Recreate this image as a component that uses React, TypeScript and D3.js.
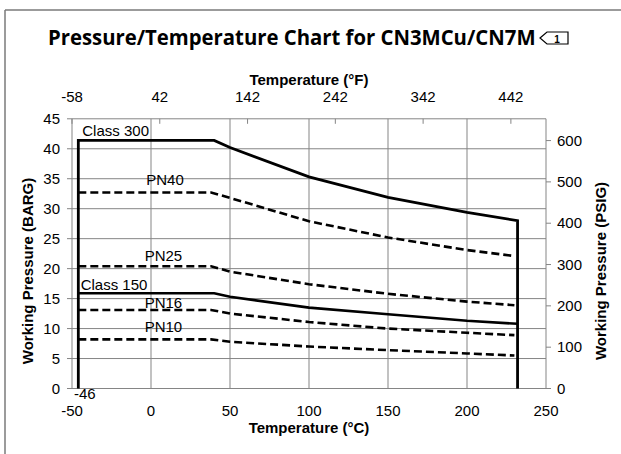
import { useLayoutEffect, useRef, useState } from "react";
import * as d3 from "d3";

// temperatures (°C) where each curve has a point
const class300Temp = [-46, 40, 50, 100, 150, 200, 232];
const class300Bar = [41.4, 41.4, 40.2, 35.3, 31.9, 29.4, 28.0];
const class150Bar = [15.9, 15.9, 15.3, 13.5, 12.4, 11.3, 10.8];

const pnTemp = [-46, 38, 50, 100, 150, 200, 230];
const pn40Bar = [32.7, 32.7, 31.8, 27.9, 25.2, 23.1, 22.1];
const pn25Bar = [20.4, 20.4, 19.5, 17.4, 15.8, 14.5, 13.9];
const pn16Bar = [13.1, 13.1, 12.5, 11.1, 10.0, 9.3, 8.9];
const pn10Bar = [8.2, 8.2, 7.8, 7.0, 6.4, 5.85, 5.5];

const cTicks = [-50, 0, 50, 100, 150, 200, 250];
const fTicks = [-58, 42, 142, 242, 342, 442];
const barTicks = [0, 5, 10, 15, 20, 25, 30, 35, 40, 45];
const psiTicks = [0, 100, 200, 300, 400, 500, 600];

const seriesNames = ["Class 300", "PN40", "PN25", "Class 150", "PN16", "PN10"];
// label anchor in data units (°C, bar)
const labelTemp = [-43.5, -3, -4, -44.5, -4, -4];
const labelBar = [42.2, 33.9, 21.3, 16.4, 13.5, 9.4];

const PSI_PER_BAR = 14.5038;
const W = 621, H = 454;
const m = { left: 72, right: 546, top: 118.8, bottom: 388.5 };
const FONT = "'Liberation Sans', Arial, sans-serif";
const TITLE_W = 488;

export default function App() {
  const titleRef = useRef<SVGTextElement>(null);
  const [sx, setSx] = useState(1);

  useLayoutEffect(() => {
    if (titleRef.current) {
      const len = titleRef.current.getComputedTextLength();
      if (len > 0) setSx(TITLE_W / len);
    }
  }, []);

  const x = d3.scaleLinear().domain([-50, 250]).range([m.left, m.right]);
  const y = d3.scaleLinear().domain([0, 45]).range([m.bottom, m.top]);
  const xF = d3.scaleLinear().domain([-58, 482]).range([m.left, m.right]);
  const yPsi = d3.scaleLinear().domain([0, 45 * PSI_PER_BAR]).range([m.bottom, m.top]);

  const line = d3.line<[number, number]>().x((d) => x(d[0])).y((d) => y(d[1]));

  const class300Pts: [number, number][] = [
    [class300Temp[0], 0],
    ...class300Temp.map((t, i) => [t, class300Bar[i]] as [number, number]),
    [class300Temp[class300Temp.length - 1], 0],
  ];
  const class150Pts = class300Temp.map((t, i) => [t, class150Bar[i]] as [number, number]);
  const pnSeries = [pn40Bar, pn25Bar, pn16Bar, pn10Bar].map((vals) =>
    pnTemp.map((t, i) => [t, vals[i]] as [number, number])
  );

  const grid = "#858585";

  return (
    <svg width={W} height={H} style={{ position: "absolute", left: 0, top: 0, background: "#fff" }}
      fontFamily={FONT}>
      {/* page frame */}
      <line x1={5} y1={10} x2={W} y2={10} stroke="#7a7a7a" strokeWidth={1.5} />
      <line x1={5} y1={10} x2={5} y2={H} stroke="#7a7a7a" strokeWidth={1.5} />

      {/* title */}
      <text ref={titleRef} transform={`translate(48,45) scale(${sx},1)`}
        fontFamily="'Open Sans', 'Noto Sans', sans-serif" fontWeight="bold" fontSize={22}>
        Pressure/Temperature Chart for CN3MCu/CN7M
      </text>
      <path d="M540,38 L547,32 L568,32 L568,44 L547,44 Z" fill="none" stroke="#000" strokeWidth={1.2} />
      <text x={557} y={42.5} fontSize={10} fontWeight="bold" textAnchor="middle">1</text>

      {/* grid */}
      {barTicks.map((v) => (
        <line key={"h" + v} x1={m.left} x2={m.right} y1={y(v)} y2={y(v)} stroke={grid} strokeWidth={1} />
      ))}
      {cTicks.map((v) => (
        <line key={"v" + v} x1={x(v)} x2={x(v)} y1={m.top} y2={m.bottom} stroke={grid} strokeWidth={1} />
      ))}

      {/* left axis */}
      {barTicks.map((v) => (
        <g key={"lt" + v}>
          <line x1={m.left - 5} x2={m.left} y1={y(v)} y2={y(v)} stroke={grid} />
          <text x={60} y={y(v)} dy="0.35em" textAnchor="end" fontSize={15}>{v}</text>
        </g>
      ))}
      <text transform={`translate(33,271) rotate(-90)`} textAnchor="middle" fontSize={15} fontWeight="bold">
        Working Pressure (BARG)
      </text>

      {/* right axis */}
      {psiTicks.map((v) => (
        <g key={"rt" + v}>
          <line x1={m.right} x2={m.right + 5} y1={yPsi(v)} y2={yPsi(v)} stroke={grid} />
          <text x={557} y={yPsi(v)} dy="0.35em" textAnchor="start" fontSize={15}>{v}</text>
        </g>
      ))}
      <text transform={`translate(606,271) rotate(-90)`} textAnchor="middle" fontSize={15} fontWeight="bold">
        Working Pressure (PSIG)
      </text>

      {/* bottom axis */}
      {cTicks.map((v) => (
        <text key={"bt" + v} x={x(v)} y={416} textAnchor="middle" fontSize={15}>{v}</text>
      ))}
      <text x={(m.left + m.right) / 2} y={433} textAnchor="middle" fontSize={15} fontWeight="bold">
        Temperature (°C)
      </text>

      {/* top axis (°F) */}
      {fTicks.map((v) => (
        <g key={"tt" + v}>
          <line x1={xF(v)} x2={xF(v)} y1={m.top} y2={m.top + 5} stroke={grid} />
          <text x={xF(v)} y={102} textAnchor="middle" fontSize={15}>{v}</text>
        </g>
      ))}
      <text x={(m.left + m.right) / 2} y={85} textAnchor="middle" fontSize={15} fontWeight="bold">
        Temperature (°F)
      </text>

      {/* curves */}
      <path d={line(class300Pts) ?? ""} fill="none" stroke="#000" strokeWidth={2.8} strokeLinejoin="miter" />
      <path d={line(class150Pts) ?? ""} fill="none" stroke="#000" strokeWidth={2.6} />
      {pnSeries.map((pts, i) => (
        <path key={"pn" + i} d={line(pts) ?? ""} fill="none" stroke="#000" strokeWidth={2.6}
          strokeDasharray="8,4" />
      ))}

      {/* series labels */}
      {seriesNames.map((n, i) => (
        <text key={n} x={x(labelTemp[i])} y={y(labelBar[i])} fontSize={15}>{n}</text>
      ))}
      <text x={74} y={399} fontSize={15}>-46</text>
    </svg>
  );
}
